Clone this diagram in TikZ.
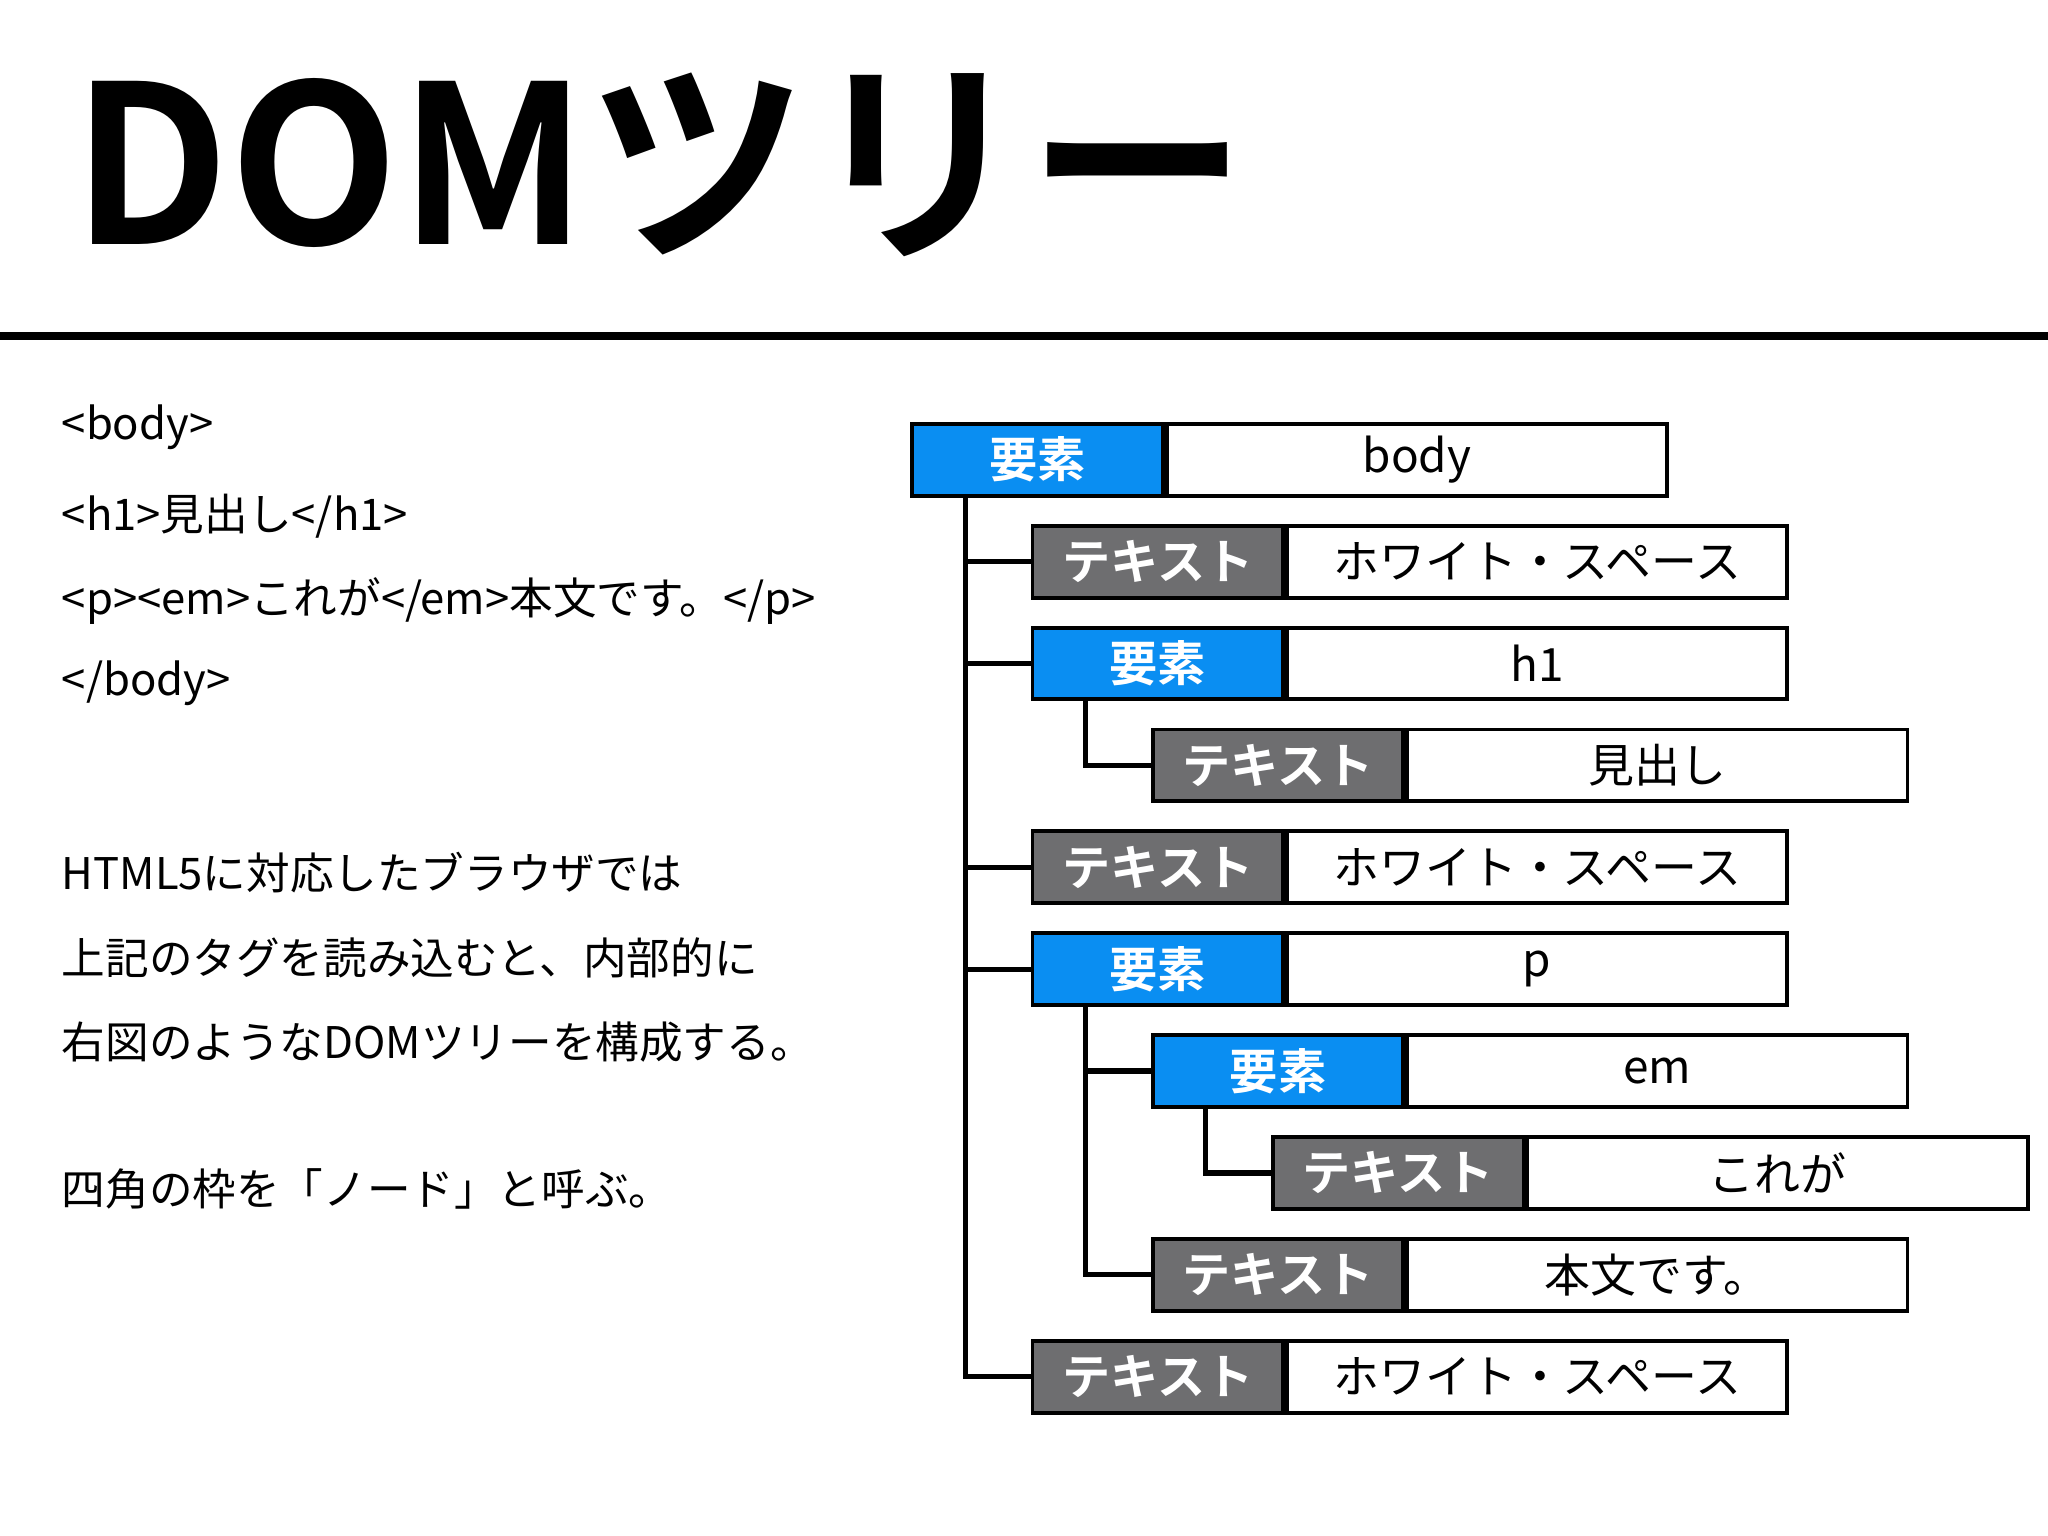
\documentclass[tikz,border=0pt]{standalone}
\usepackage{fontspec}
\setmainfont{Noto Sans CJK JP}
\newfontfamily\jpbold{Noto Sans CJK JP Bold}
\usetikzlibrary{calc}
\definecolor{elblue}{HTML}{0A8EF2}
\definecolor{txgray}{HTML}{6E6E70}
\tikzset{
 lblbox/.style={draw=black,line width=0.06cm,minimum width=3.84cm,minimum height=1.1cm,inner sep=0pt,anchor=north west,text=white,font=\jpbold\fontsize{21}{21}\selectfont},
 valbox/.style={draw=black,line width=0.06cm,fill=white,minimum height=1.1cm,inner sep=0pt,anchor=north west,font=\fontsize{20}{20}\selectfont},
 tree/.style={line width=0.08cm},
 lefttext/.style={anchor=west,inner sep=0pt,font=\fontsize{19}{19}\selectfont}
}
\newcommand{\domrow}[6]{% name, x, y, color, label, value, width
 \node[lblbox,fill=#4] (l#1) at (#2,#3) {#5};
 \node[valbox,minimum width=7.66cm] (v#1) at (l#1.north east) {#6};
}
\begin{document}
\begin{tikzpicture}[x=0.02cm,y=-0.02cm]
\useasboundingbox (0,0) rectangle (1568,1176);
\node[anchor=base west,inner sep=0pt,font=\jpbold\fontsize{96}{96}\selectfont] (title) at (55,187) {DOMツリー};
\draw[line width=0.12cm] (0,257) -- (1568,257);
\node[lefttext] (c1) at (47,327) {<body>};
\node[lefttext] (c2) at (47,395) {<h1>見出し</h1>};
\node[lefttext] (c3) at (47,460) {<p><em>これが</em>本文です。</p>};
\node[lefttext] (c4) at (47,523) {</body>};
\node[lefttext] (p1) at (47,668) {HTML5に対応したブラウザでは};
\node[lefttext] (p2) at (47,733) {上記のタグを読み込むと、内部的に};
\node[lefttext] (p3) at (47,798) {右図のようなDOMツリーを構成する。};
\node[lefttext] (p4) at (47,910) {四角の枠を「ノード」と呼ぶ。};
\domrow{1}{697}{323}{elblue}{要素}{body}
\domrow{2}{789}{401}{txgray}{テキスト}{ホワイト・スペース}
\domrow{3}{789}{479}{elblue}{要素}{h1}
\domrow{4}{881}{557}{txgray}{テキスト}{見出し}
\domrow{5}{789}{635}{txgray}{テキスト}{ホワイト・スペース}
\domrow{6}{789}{713}{elblue}{要素}{p}
\domrow{7}{881}{791}{elblue}{要素}{em}
\domrow{8}{973}{869}{txgray}{テキスト}{これが}
\domrow{9}{881}{947}{txgray}{テキスト}{本文です。}
\domrow{10}{789}{1025}{txgray}{テキスト}{ホワイト・スペース}
\coordinate (t1) at ($(l1.south west)+(42,0)$);
\coordinate (t3) at ($(l3.south west)+(42,0)$);
\coordinate (t6) at ($(l6.south west)+(42,0)$);
\coordinate (t7) at ($(l7.south west)+(42,0)$);
\foreach \c in {2,3,5,6,10} \draw[tree] (t1) |- (l\c.west);
\draw[tree] (t3) |- (l4.west);
\foreach \c in {7,9} \draw[tree] (t6) |- (l\c.west);
\draw[tree] (t7) |- (l8.west);
\end{tikzpicture}
\end{document}
